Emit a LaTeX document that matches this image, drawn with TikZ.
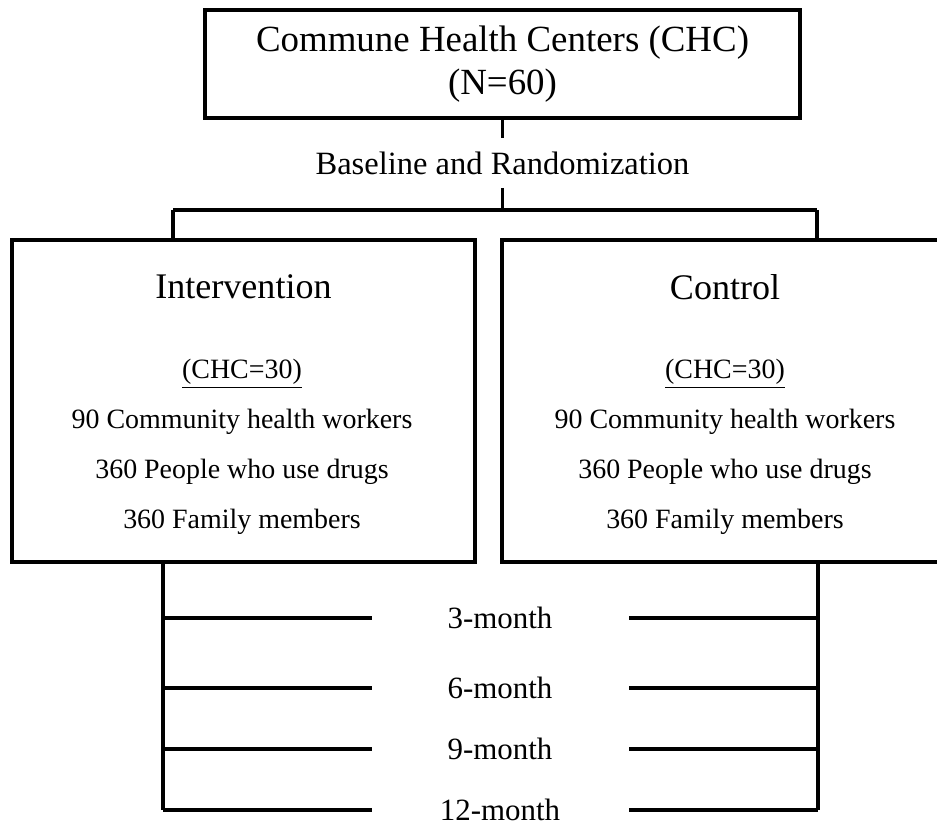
\documentclass[tikz,border=0pt]{standalone}
\usepackage{fontspec}
\setmainfont{Liberation Serif}
\usetikzlibrary{positioning}

\tikzset{
  arm/.style={draw, minimum height=64.4mm},
  armhead/.style={font=\fontsize{20.5}{24}\selectfont},
  armlist/.style={align=center, font=\fontsize{15.9}{28.5}\selectfont},
  followup/.style={font=\fontsize{17.6}{20}\selectfont},
}

\begin{document}
\begin{tikzpicture}[x=.2mm, y=-.2mm, line width=1.8pt]
\useasboundingbox (0,0) rectangle (937,827);
\node[draw, align=center, minimum width=119mm, minimum height=21.6mm, font=\fontsize{21}{24.5}\selectfont] (chc) at (502.5,64) {Commune Health Centers (CHC)\\(N=60)};
\node[font=\fontsize{18.5}{22}\selectfont, inner ysep=2.36mm] (base) at (502.5,163) {Baseline and Randomization};
\coordinate (split) at (502.5,210);
\coordinate (lfork) at (173,210);
\coordinate (rfork) at (817,210);
\node[arm, minimum width=92.6mm] (interv) at (243.5,401) {};
\node[arm, minimum width=88mm] (ctrl) at (722,401) {};
\node[armhead] (intervhead) at (243.5,287) {Intervention};
\node[armhead] (ctrlhead) at (725,287) {Control};
\node[armlist] (intervlist) at (242,447) {\underline{(CHC=30)}\\90 Community health workers\\360 People who use drugs\\360 Family members};
\node[armlist] (ctrllist) at (725,447) {\underline{(CHC=30)}\\90 Community health workers\\360 People who use drugs\\360 Family members};
\draw (chc.south) -- (base.north);
\draw (base.south) -- (split);
\draw (lfork) -- (rfork);
\draw (lfork) -- (lfork |- interv.north);
\draw (rfork) -- (rfork |- ctrl.north);
\coordinate (lbus) at (163,810);
\coordinate (rbus) at (818,810);
\coordinate (lstub) at (372,810);
\coordinate (rstub) at (629,810);
\draw (interv.south -| lbus) -- (lbus);
\draw (ctrl.south -| rbus) -- (rbus);
\foreach \m/\y in {3/618,6/688,9/749,12/810} {
  \node[followup] (m\m) at (500,\y) {\m-month};
  \draw (lbus |- m\m) -- (lstub |- m\m);
  \draw (rstub |- m\m) -- (rbus |- m\m);
}
\end{tikzpicture}
\end{document}
